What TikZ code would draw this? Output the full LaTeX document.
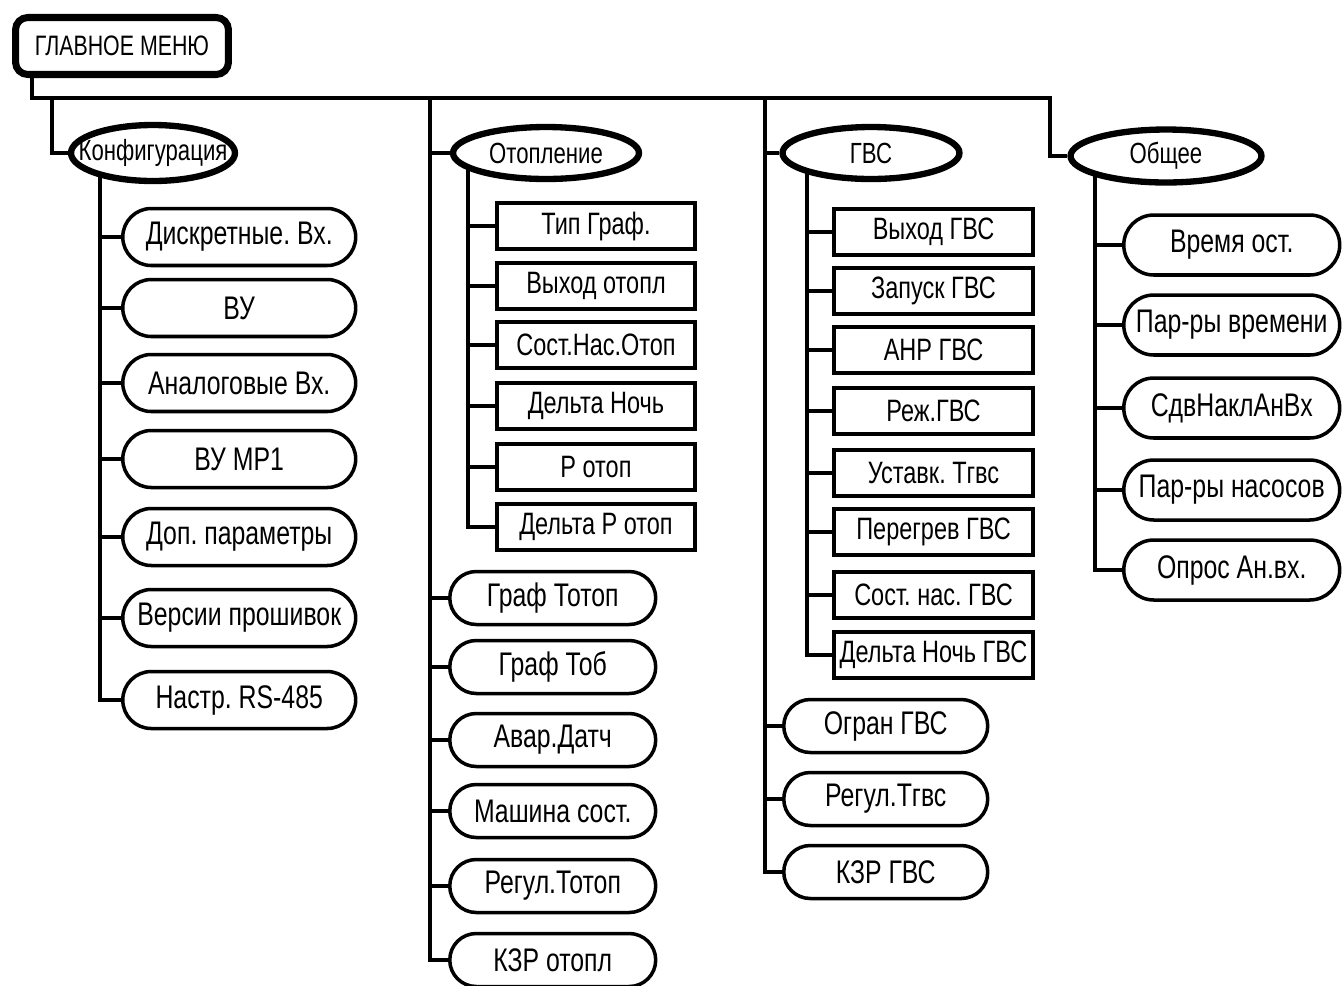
\documentclass[tikz,border=0pt]{standalone}
\usepackage{fontspec}
\setmainfont{Liberation Sans}[FakeStretch=0.76]
\usetikzlibrary{shapes.geometric,shapes.misc,backgrounds}
\frenchspacing

\begin{document}
\begin{tikzpicture}[x=0.02cm,y=-0.02cm,
  wire/.style={line width=2.2pt},
  every node/.style={font=\fontsize{18.6}{20}\selectfont,fill=white,inner sep=0pt},
  menu/.style={draw,line width=4pt,rounded corners=7pt,minimum width=4.26cm,minimum height=1.14cm,font=\fontsize{16}{18}\selectfont},
  group/.style={draw,ellipse,line width=3.6pt,minimum height=1.04cm,font=\fontsize{16.6}{18}\selectfont},
  item/.style={draw,rounded rectangle,line width=2pt,anchor=west,minimum height=1.06cm},
  param/.style={draw,rectangle,line width=2.3pt,anchor=west,minimum width=3.96cm,minimum height=0.93cm,font=\fontsize{17.6}{19}\selectfont}]
\useasboundingbox (0,0) rectangle (1342,985);

\node[menu] (main) at (122,46) {ГЛАВНОЕ МЕНЮ};

% the four groups
\node[group,minimum width=3.28cm,minimum height=1.12cm] (konf) at (153,153) {\makebox[0pt]{Конфигурация}};
\node[group,minimum width=3.72cm] (otop) at (546,153) {\makebox[0pt]{Отопление}};
\node[group,minimum width=3.54cm] (gvs) at (871,153) {\makebox[0pt]{ГВС}};
\node[group,minimum width=3.82cm,minimum height=1.06cm] (obsch) at (1166,156) {\makebox[0pt]{Общее}};

% Конфигурация
\foreach \y/\t [count=\i] in {237/Дискретные. Вх., 308/ВУ, 383/Аналоговые Вх., 459/ВУ МР1,
    537/Доп. параметры, 618/Версии прошивок, 700/Настр. RS-485}
  \node[item,minimum width=4.66cm,minimum height=1.14cm] (k\i) at (121,\y) {\t};

% Отопление
\foreach \y/\t [count=\i] in {226/Тип Граф., 286/Выход отопл, 345/Сост.Нас.Отоп,
    406/Дельта Ночь, 467/Р отоп, 527/Дельта Р отоп}
  \node[param] (op\i) at (495,\y) {\t};
\foreach \y/\t [count=\i] in {598/Граф Тотоп, 667/Граф Тоб, 740/Авар.Датч,
    811/Машина сост., 886/Регул.Тотоп, 960/КЗР отопл}
  \node[item,minimum width=4.12cm] (oi\i) at (448,\y) {\t};

% ГВС
\foreach \y/\t [count=\i] in {232/Выход ГВС, 291/Запуск ГВС, 350/АНР ГВС, 411/Реж.ГВС,
    473/Уставк. Тгвс, 532/Перегрев ГВС, 595/Сост. нас. ГВС, 655/Дельта Ночь ГВС}
  \node[param,minimum width=3.98cm] (gp\i) at (832,\y) {\t};
\foreach \y/\t [count=\i] in {726/Огран ГВС, 799/Регул.Тгвс, 872/КЗР ГВС}
  \node[item,minimum width=4.08cm] (gi\i) at (782,\y) {\t};

% Общее
\foreach \y/\t [count=\i] in {245/Время ост., 325/Пар-ры времени, 408/СдвНаклАнВх,
    490/Пар-ры насосов, 570/Опрос Ан.вх.}
  \node[item,minimum width=4.32cm,minimum height=1.2cm] (q\i) at (1122,\y) {\t};

% trunk coordinates
\coordinate (bus) at (32,98);
\coordinate (busend) at (1050,98);
\coordinate (kx) at (52,98);
\coordinate (ox) at (430,98);
\coordinate (gx) at (765,98);
\coordinate (kt) at (100,0);
\coordinate (ot) at (468,0);
\coordinate (gt) at (807,0);
\coordinate (qt) at (1095,0);

\begin{pgfonlayer}{background}
  \draw[wire] (main.south -| bus) -- (bus) -- (busend) |- (obsch.west);
  \draw[wire] (kx) |- (konf.west);
  \draw[wire] (ox) |- (oi6.west);
  \draw[wire] (ox |- otop) -- (otop.west);
  \draw[wire] (gx) |- (gi3.west);
  \draw[wire] (gx |- gvs) -- (gvs.west);
  % sub-trunks
  \draw[wire] (konf -| kt) |- (k7.west);
  \foreach \i in {1,...,6} \draw[wire] (kt |- k\i) -- (k\i.west);
  \draw[wire] (otop -| ot) |- (op6.west);
  \foreach \i in {1,...,5} \draw[wire] (ot |- op\i) -- (op\i.west);
  \foreach \i in {1,...,5} \draw[wire] (ox |- oi\i) -- (oi\i.west);
  \draw[wire] (gvs -| gt) |- (gp8.west);
  \foreach \i in {1,...,7} \draw[wire] (gt |- gp\i) -- (gp\i.west);
  \foreach \i in {1,2} \draw[wire] (gx |- gi\i) -- (gi\i.west);
  \draw[wire] (obsch -| qt) |- (q5.west);
  \foreach \i in {1,...,4} \draw[wire] (qt |- q\i) -- (q\i.west);
\end{pgfonlayer}
\end{tikzpicture}
\end{document}
